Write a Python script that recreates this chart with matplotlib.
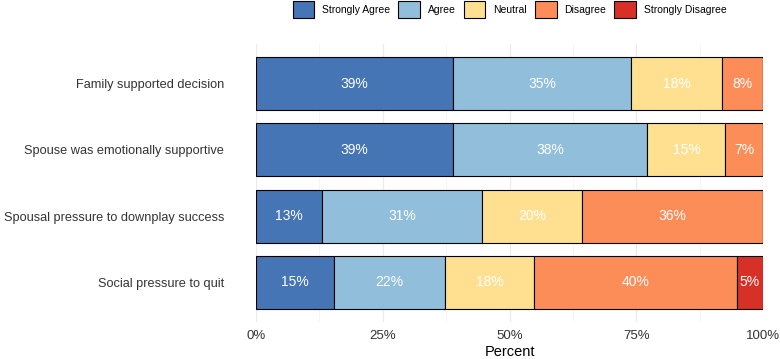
import numpy as np
import matplotlib; matplotlib.use("Agg")
import matplotlib.pyplot as plt
from matplotlib.patches import Patch

plt.rcParams.update({"font.family": ["Liberation Sans", "DejaVu Sans"], "font.size": 9})

items = ["Family supported decision", "Spouse was emotionally supportive",
         "Spousal pressure to downplay success", "Social pressure to quit"]
levels = ["Strongly Agree", "Agree", "Neutral", "Disagree", "Strongly Disagree"]
strongly_agree = [38.9, 38.9, 13.1, 15.3]
agree = [35.0, 38.3, 31.4, 22.0]
neutral = [18.1, 15.4, 19.8, 17.6]
disagree = [8.0, 7.4, 35.7, 39.9]
strongly_disagree = [0.0, 0.0, 0.0, 5.2]
colors = ["#4575b4", "#91bfdb", "#fee090", "#fc8d59", "#d73027"]

series = [strongly_agree, agree, neutral, disagree, strongly_disagree]

fig = plt.figure(figsize=(7.8, 3.59), dpi=100)
ax = fig.add_axes([256 / 780, 1 - 322 / 359, (763 - 256) / 780, (322 - 44) / 359])

y = np.arange(len(items))
left = np.zeros(len(items))
for vals, c in zip(series, colors):
    vals = np.array(vals)
    ax.barh(y, vals, left=left, height=0.8, color=c, edgecolor="black", linewidth=0.8, zorder=3)
    for yi, l, v in zip(y, left, vals):
        if v > 0:
            ax.text(l + v / 2, yi, f"{round(v):.0f}%", ha="center", va="center",
                    color="white", fontsize=10, zorder=4)
    left += vals

ax.set_xlim(0, 100)
ax.set_ylim(3.6, -0.6)
ax.set_yticks(y)
ax.set_yticklabels(items, fontsize=9.2, color="#333333")
ax.set_xticks([0, 25, 50, 75, 100])
ax.set_xticklabels(["0%", "25%", "50%", "75%", "100%"], fontsize=9.5, color="#333333")
ax.set_xticks([12.5, 37.5, 62.5, 87.5], minor=True)
ax.tick_params(length=0, which="both")
ax.tick_params(axis="y", pad=23)
ax.tick_params(axis="x", pad=6)
ax.grid(axis="x", which="major", color="#ebebeb", lw=0.9, zorder=0)
ax.grid(axis="x", which="minor", color="#f4f4f4", lw=0.6, zorder=0)
for s in ax.spines.values():
    s.set_visible(False)
ax.set_xlabel("Percent", fontsize=10.5, labelpad=2)

handles = [Patch(facecolor=c, edgecolor="black", linewidth=0.8, label=l) for c, l in zip(colors, levels)]
fig.legend(handles=handles, loc="upper center", bbox_to_anchor=(509.5 / 780, 1.0), ncol=5,
           frameon=False, fontsize=7.5, handlelength=2.1, handleheight=2.1,
           columnspacing=0.75, handletextpad=0.75, borderpad=0.1, borderaxespad=0)

fig.savefig("out.png", dpi=100)
